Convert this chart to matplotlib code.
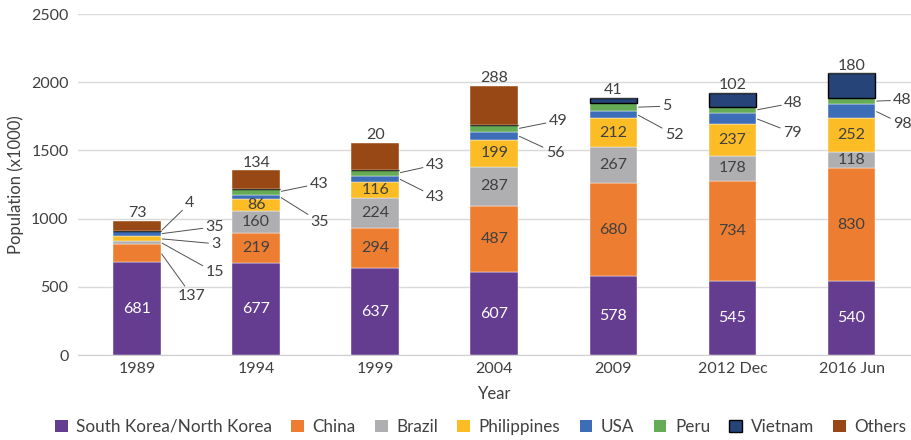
import numpy as np
import matplotlib.pyplot as plt
from matplotlib.patches import Patch

plt.rcParams['font.family'] = ['Lato', 'DejaVu Sans']

years = ["1989", "1994", "1999", "2004", "2009", "2012 Dec", "2016 Jun"]
korea = [681, 677, 637, 607, 578, 545, 540]
china = [137, 219, 294, 487, 680, 734, 830]
brazil = [15, 160, 224, 287, 267, 178, 118]
philippines = [39, 86, 116, 199, 212, 237, 252]
usa = [35, 35, 43, 56, 52, 79, 98]
peru = [4, 43, 43, 49, 57, 48, 48]
vietnam = [0, 0, 0, 0, 41, 102, 180]
others = [73, 134, 200, 288, 0, 0, 0]

# labels that the source shows cut short
label_override = {("Philippines", 0): "3", ("Others", 2): "20", ("Peru", 4): "5"}

series = [
    ("South Korea/North Korea", korea, "#643c90"),
    ("China", china, "#ed7d31"),
    ("Brazil", brazil, "#afafb2"),
    ("Philippines", philippines, "#fbbc25"),
    ("USA", usa, "#3e6db8"),
    ("Peru", peru, "#66ab55"),
    ("Vietnam", vietnam, "#264478"),
    ("Others", others, "#984814"),
]

# leader label offsets (pixels from right bar edge, segment middle)
leader = {
    ("China", 0): (31, -43), ("Brazil", 0): (54, -30),
    ("Philippines", 0): (55, -5), ("USA", 0): (54, 7), ("Peru", 0): (29, 28),
    ("USA", 1): (40, -25), ("Peru", 1): (39, 8),
    ("USA", 2): (36, -18), ("Peru", 2): (36, 8),
    ("USA", 3): (37, -17), ("Peru", 3): (40, 8),
    ("USA", 4): (37, -20), ("Peru", 4): (30, 1),
    ("USA", 5): (36, -14), ("Peru", 5): (37, 7),
    ("USA", 6): (27, -13), ("Peru", 6): (27, 1),
}

txt = "#404040"
fs = 11.5
fig = plt.figure(figsize=(9.12, 4.4), dpi=100)
ax = fig.add_axes([0.085, 0.193, 0.914, 0.775])

x = np.arange(len(years))
w = 0.4
bottom = np.zeros(len(years))
handles = []
for name, vals, col in series:
    vals = np.array(vals, dtype=float)
    edge = "black" if name == "Vietnam" else "white"
    lw = 1.0 if name == "Vietnam" else 0.3
    ax.bar(x, vals, w, bottom=bottom, color=col, edgecolor=edge, linewidth=lw, zorder=3)
    handles.append(Patch(facecolor=col, edgecolor="black" if name == "Vietnam" else col,
                         linewidth=1.0 if name == "Vietnam" else 0))
    for i, v in enumerate(vals):
        if v <= 0:
            continue
        lab = label_override.get((name, i), str(int(v)))
        mid = bottom[i] + v / 2
        if (name, i) in leader:
            dx, dy = leader[(name, i)]
            ax.annotate(lab, xy=(x[i] + w / 2, mid), xytext=(dx, dy),
                        textcoords="offset pixels", ha="center", va="center",
                        fontsize=fs, color=txt, annotation_clip=False,
                        arrowprops=dict(arrowstyle="-", color="#505050", lw=0.7,
                                        shrinkA=0, shrinkB=1))
        elif name in ("Vietnam", "Others"):
            ax.annotate(lab, xy=(x[i], bottom[i] + v), xytext=(0, 0.5),
                        textcoords="offset points", ha="center", va="bottom",
                        fontsize=fs, color=txt)
        else:
            ax.text(x[i], mid, lab, ha="center", va="center", fontsize=fs,
                    color="white" if name.startswith("South") else txt, zorder=4)
    bottom += vals

ax.set_xlim(-0.5, len(years) - 0.5)
ax.set_ylim(0, 2500)
ax.set_yticks(np.arange(0, 2501, 500))
ax.set_xticks(x)
ax.set_xticklabels(years)
ax.tick_params(axis="both", length=0, labelsize=fs, colors=txt)
ax.tick_params(axis="x", pad=5)
ax.tick_params(axis="y", pad=6.5)
ax.grid(axis="y", color="#d9d9d9", linewidth=1, zorder=0)
for s in ["top", "right", "left"]:
    ax.spines[s].set_visible(False)
ax.spines["bottom"].set_color("#d0d0d0")
ax.set_xlabel("Year", fontsize=12, color=txt, labelpad=7)
ax.set_ylabel("Population (x1000)", fontsize=12, color=txt, labelpad=5)

fig.legend(handles, [s[0] for s in series], loc="center", bbox_to_anchor=(0.527, 0.03),
           ncol=8, frameon=False, fontsize=12.3, labelcolor=txt, handlelength=0.75,
           handleheight=0.75, handletextpad=0.5, columnspacing=1.12)

fig.savefig("out.png", dpi=100)
